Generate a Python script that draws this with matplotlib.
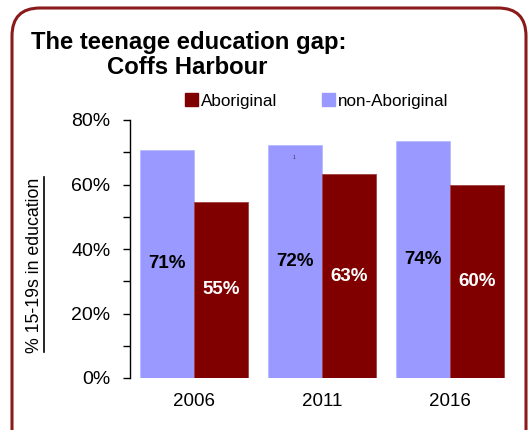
import matplotlib
matplotlib.use('Agg')
import matplotlib.pyplot as plt
import numpy as np
from matplotlib.patches import FancyBboxPatch, Rectangle
from matplotlib.lines import Line2D

years = ['2006', '2011', '2016']
non_aboriginal = [70.8, 72.1, 73.6]
aboriginal = [54.7, 63.2, 59.8]
non_ab_labels = ['71%', '72%', '74%']
ab_labels = ['55%', '63%', '60%']
y_ticks = [0, 20, 40, 60, 80]

purple = '#9999ff'
maroon = '#800000'
border = '#8b1a1a'

plt.rcParams['font.family'] = ['Liberation Sans', 'DejaVu Sans']

fig = plt.figure(figsize=(5.31, 4.3), dpi=100)

# rounded frame round the whole chart
frame = FancyBboxPatch((0.12, -0.3), 5.14, 4.52, boxstyle='round,pad=0,rounding_size=0.28',
                       transform=fig.dpi_scale_trans, facecolor='none', edgecolor=border,
                       linewidth=2.2)
fig.patches.append(frame)

ax = fig.add_axes([130 / 531, 1 - 378 / 430, 384 / 531, 258 / 430])

x = np.arange(len(years))
w = 0.42
ax.bar(x - w / 2, non_aboriginal, w, color=purple, edgecolor='#b8b8ff', linewidth=0.6)
ax.bar(x + w / 2, aboriginal, w, color=maroon, edgecolor='#a04040', linewidth=0.6)

for i in range(len(years)):
    ax.text(x[i] - w / 2, non_aboriginal[i] / 2, non_ab_labels[i], ha='center', va='center',
            fontsize=13.5, fontweight='bold', color='black')
    ax.text(x[i] + w / 2, aboriginal[i] / 2, ab_labels[i], ha='center', va='center',
            fontsize=13.5, fontweight='bold', color='white')

# small stray mark in the 2011 bar
ax.text(x[1] - w / 2 - 0.01, 68.5, '1', ha='center', va='center', fontsize=3.5, color='#333333')

ax.set_xlim(-0.5, 2.5)
ax.set_ylim(0, 80)
ax.set_xticks(x)
ax.set_xticklabels(years, fontsize=13.5)
ax.tick_params(axis='x', length=0, pad=11)
ax.set_yticks(y_ticks)
ax.set_yticklabels([f'{t}%' for t in y_ticks], fontsize=14)
ax.set_yticks(np.arange(10, 80, 20), minor=True)
ax.tick_params(axis='y', which='both', direction='out', length=5, width=1, pad=9)
for s in ['top', 'right', 'bottom']:
    ax.spines[s].set_visible(False)
ax.spines['left'].set_linewidth(1)

# y label, underlined
fig.text(35 / 531, 1 - 265 / 430, '% 15-19s in education', rotation=90, ha='center', va='center',
         fontsize=12.8)
fig.add_artist(Line2D([44 / 531, 44 / 531], [1 - 352 / 430, 1 - 177 / 430],
                      transform=fig.transFigure, color='black', linewidth=1.2))

# title
fig.text(31 / 531, 1 - 42 / 430, 'The teenage education gap:', ha='left', va='center',
         fontsize=17.2, fontweight='bold')
fig.text(107 / 531, 1 - 68 / 430, 'Coffs Harbour', ha='left', va='center',
         fontsize=17.2, fontweight='bold')

handles = [Rectangle((0, 0), 1, 1, color=maroon), Rectangle((0, 0), 1, 1, color=purple)]
fig.legend(handles, ['Aboriginal', 'non-Aboriginal'], loc='center left',
           bbox_to_anchor=(185 / 531, 1 - 101 / 430), ncol=2, frameon=False,
           handlelength=0.75, handleheight=0.75, handletextpad=0.2, columnspacing=2.6,
           borderpad=0, borderaxespad=0, prop={'size': 12.3})

fig.savefig('out.png', dpi=100)
